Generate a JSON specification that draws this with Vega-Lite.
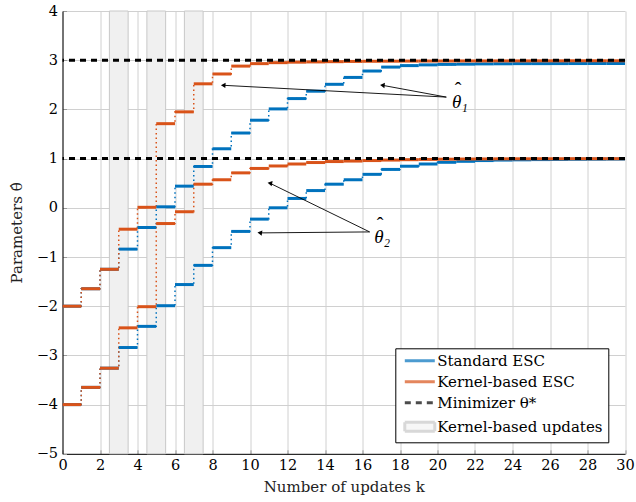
{
  "$schema": "https://vega.github.io/schema/vega-lite/v6.json",
  "width": 562.5,
  "height": 442.8,
  "autosize": {"type": "none"},
  "padding": {"left": 62.5, "top": 11, "right": 11, "bottom": 48.2},
  "background": "white",
  "config": {
    "view": {"stroke": null},
    "font": "DejaVu Serif",
    "axis": {
      "domainColor": "black",
      "domainWidth": 1,
      "gridColor": "#d0d0d0",
      "gridWidth": 1,
      "gridOpacity": 1,
      "tickColor": "#999999",
      "labelFont": "DejaVu Serif",
      "labelFontSize": 14.5,
      "labelColor": "black",
      "labelOverlap": false,
      "titleFont": "DejaVu Serif",
      "titleFontSize": 15,
      "titleFontWeight": "normal",
      "titleColor": "#222222"
    },
    "legend": {
      "orient": "none", "legendX": 332.8, "legendY": 337.3, "title": null,
      "padding": 5, "strokeColor": "black", "fillColor": "white", "cornerRadius": 0,
      "symbolSize": 100, "labelFont": "DejaVu Serif", "labelLimit": 400,
      "labelFontSize": 15, "labelColor": "black", "rowPadding": 5, "labelOffset": 10,
      "symbolOffset": 12
    }
  },
  "datasets": {
    "steps": [
      {"param": "t1", "method": "Standard ESC", "k": 0, "value": -2.0},
      {"param": "t1", "method": "Standard ESC", "k": 1, "value": -1.645},
      {"param": "t1", "method": "Standard ESC", "k": 2, "value": -1.25},
      {"param": "t1", "method": "Standard ESC", "k": 3, "value": -0.84},
      {"param": "t1", "method": "Standard ESC", "k": 4, "value": -0.40},
      {"param": "t1", "method": "Standard ESC", "k": 5, "value": 0.02},
      {"param": "t1", "method": "Standard ESC", "k": 6, "value": 0.44},
      {"param": "t1", "method": "Standard ESC", "k": 7, "value": 0.84},
      {"param": "t1", "method": "Standard ESC", "k": 8, "value": 1.20},
      {"param": "t1", "method": "Standard ESC", "k": 9, "value": 1.52},
      {"param": "t1", "method": "Standard ESC", "k": 10, "value": 1.78},
      {"param": "t1", "method": "Standard ESC", "k": 11, "value": 2.01},
      {"param": "t1", "method": "Standard ESC", "k": 12, "value": 2.22},
      {"param": "t1", "method": "Standard ESC", "k": 13, "value": 2.37},
      {"param": "t1", "method": "Standard ESC", "k": 14, "value": 2.51},
      {"param": "t1", "method": "Standard ESC", "k": 15, "value": 2.65},
      {"param": "t1", "method": "Standard ESC", "k": 16, "value": 2.78},
      {"param": "t1", "method": "Standard ESC", "k": 17, "value": 2.86},
      {"param": "t1", "method": "Standard ESC", "k": 18, "value": 2.89},
      {"param": "t1", "method": "Standard ESC", "k": 19, "value": 2.905},
      {"param": "t1", "method": "Standard ESC", "k": 20, "value": 2.915},
      {"param": "t1", "method": "Standard ESC", "k": 21, "value": 2.92},
      {"param": "t1", "method": "Standard ESC", "k": 22, "value": 2.925},
      {"param": "t1", "method": "Standard ESC", "k": 23, "value": 2.927},
      {"param": "t1", "method": "Standard ESC", "k": 24, "value": 2.93},
      {"param": "t1", "method": "Standard ESC", "k": 25, "value": 2.93},
      {"param": "t1", "method": "Standard ESC", "k": 26, "value": 2.931},
      {"param": "t1", "method": "Standard ESC", "k": 27, "value": 2.932},
      {"param": "t1", "method": "Standard ESC", "k": 28, "value": 2.933},
      {"param": "t1", "method": "Standard ESC", "k": 29, "value": 2.933},
      {"param": "t1", "method": "Standard ESC", "k": 30, "value": 2.933},
      {"param": "t2", "method": "Standard ESC", "k": 0, "value": -4.0},
      {"param": "t2", "method": "Standard ESC", "k": 1, "value": -3.65},
      {"param": "t2", "method": "Standard ESC", "k": 2, "value": -3.26},
      {"param": "t2", "method": "Standard ESC", "k": 3, "value": -2.84},
      {"param": "t2", "method": "Standard ESC", "k": 4, "value": -2.41},
      {"param": "t2", "method": "Standard ESC", "k": 5, "value": -1.99},
      {"param": "t2", "method": "Standard ESC", "k": 6, "value": -1.56},
      {"param": "t2", "method": "Standard ESC", "k": 7, "value": -1.17},
      {"param": "t2", "method": "Standard ESC", "k": 8, "value": -0.81},
      {"param": "t2", "method": "Standard ESC", "k": 9, "value": -0.48},
      {"param": "t2", "method": "Standard ESC", "k": 10, "value": -0.23},
      {"param": "t2", "method": "Standard ESC", "k": 11, "value": 0.0},
      {"param": "t2", "method": "Standard ESC", "k": 12, "value": 0.19},
      {"param": "t2", "method": "Standard ESC", "k": 13, "value": 0.35},
      {"param": "t2", "method": "Standard ESC", "k": 14, "value": 0.48},
      {"param": "t2", "method": "Standard ESC", "k": 15, "value": 0.57},
      {"param": "t2", "method": "Standard ESC", "k": 16, "value": 0.68},
      {"param": "t2", "method": "Standard ESC", "k": 17, "value": 0.78},
      {"param": "t2", "method": "Standard ESC", "k": 18, "value": 0.845},
      {"param": "t2", "method": "Standard ESC", "k": 19, "value": 0.89},
      {"param": "t2", "method": "Standard ESC", "k": 20, "value": 0.925},
      {"param": "t2", "method": "Standard ESC", "k": 21, "value": 0.945},
      {"param": "t2", "method": "Standard ESC", "k": 22, "value": 0.96},
      {"param": "t2", "method": "Standard ESC", "k": 23, "value": 0.97},
      {"param": "t2", "method": "Standard ESC", "k": 24, "value": 0.975},
      {"param": "t2", "method": "Standard ESC", "k": 25, "value": 0.98},
      {"param": "t2", "method": "Standard ESC", "k": 26, "value": 0.983},
      {"param": "t2", "method": "Standard ESC", "k": 27, "value": 0.986},
      {"param": "t2", "method": "Standard ESC", "k": 28, "value": 0.988},
      {"param": "t2", "method": "Standard ESC", "k": 29, "value": 0.99},
      {"param": "t2", "method": "Standard ESC", "k": 30, "value": 0.99},
      {"param": "t1", "method": "Kernel-based ESC", "k": 0, "value": -2.0},
      {"param": "t1", "method": "Kernel-based ESC", "k": 1, "value": -1.645},
      {"param": "t1", "method": "Kernel-based ESC", "k": 2, "value": -1.25},
      {"param": "t1", "method": "Kernel-based ESC", "k": 3, "value": -0.435},
      {"param": "t1", "method": "Kernel-based ESC", "k": 4, "value": 0.01},
      {"param": "t1", "method": "Kernel-based ESC", "k": 5, "value": 1.71},
      {"param": "t1", "method": "Kernel-based ESC", "k": 6, "value": 1.95},
      {"param": "t1", "method": "Kernel-based ESC", "k": 7, "value": 2.52},
      {"param": "t1", "method": "Kernel-based ESC", "k": 8, "value": 2.72},
      {"param": "t1", "method": "Kernel-based ESC", "k": 9, "value": 2.88},
      {"param": "t1", "method": "Kernel-based ESC", "k": 10, "value": 2.93},
      {"param": "t1", "method": "Kernel-based ESC", "k": 11, "value": 2.95},
      {"param": "t1", "method": "Kernel-based ESC", "k": 12, "value": 2.96},
      {"param": "t1", "method": "Kernel-based ESC", "k": 13, "value": 2.965},
      {"param": "t1", "method": "Kernel-based ESC", "k": 14, "value": 2.97},
      {"param": "t1", "method": "Kernel-based ESC", "k": 15, "value": 2.975},
      {"param": "t1", "method": "Kernel-based ESC", "k": 16, "value": 2.978},
      {"param": "t1", "method": "Kernel-based ESC", "k": 17, "value": 2.98},
      {"param": "t1", "method": "Kernel-based ESC", "k": 18, "value": 2.982},
      {"param": "t1", "method": "Kernel-based ESC", "k": 19, "value": 2.983},
      {"param": "t1", "method": "Kernel-based ESC", "k": 20, "value": 2.984},
      {"param": "t1", "method": "Kernel-based ESC", "k": 21, "value": 2.985},
      {"param": "t1", "method": "Kernel-based ESC", "k": 22, "value": 2.985},
      {"param": "t1", "method": "Kernel-based ESC", "k": 23, "value": 2.986},
      {"param": "t1", "method": "Kernel-based ESC", "k": 24, "value": 2.986},
      {"param": "t1", "method": "Kernel-based ESC", "k": 25, "value": 2.987},
      {"param": "t1", "method": "Kernel-based ESC", "k": 26, "value": 2.987},
      {"param": "t1", "method": "Kernel-based ESC", "k": 27, "value": 2.988},
      {"param": "t1", "method": "Kernel-based ESC", "k": 28, "value": 2.988},
      {"param": "t1", "method": "Kernel-based ESC", "k": 29, "value": 2.988},
      {"param": "t1", "method": "Kernel-based ESC", "k": 30, "value": 2.988},
      {"param": "t2", "method": "Kernel-based ESC", "k": 0, "value": -4.0},
      {"param": "t2", "method": "Kernel-based ESC", "k": 1, "value": -3.65},
      {"param": "t2", "method": "Kernel-based ESC", "k": 2, "value": -3.26},
      {"param": "t2", "method": "Kernel-based ESC", "k": 3, "value": -2.44},
      {"param": "t2", "method": "Kernel-based ESC", "k": 4, "value": -2.01},
      {"param": "t2", "method": "Kernel-based ESC", "k": 5, "value": -0.32},
      {"param": "t2", "method": "Kernel-based ESC", "k": 6, "value": -0.08},
      {"param": "t2", "method": "Kernel-based ESC", "k": 7, "value": 0.48},
      {"param": "t2", "method": "Kernel-based ESC", "k": 8, "value": 0.57},
      {"param": "t2", "method": "Kernel-based ESC", "k": 9, "value": 0.71},
      {"param": "t2", "method": "Kernel-based ESC", "k": 10, "value": 0.80},
      {"param": "t2", "method": "Kernel-based ESC", "k": 11, "value": 0.85},
      {"param": "t2", "method": "Kernel-based ESC", "k": 12, "value": 0.89},
      {"param": "t2", "method": "Kernel-based ESC", "k": 13, "value": 0.92},
      {"param": "t2", "method": "Kernel-based ESC", "k": 14, "value": 0.94},
      {"param": "t2", "method": "Kernel-based ESC", "k": 15, "value": 0.95},
      {"param": "t2", "method": "Kernel-based ESC", "k": 16, "value": 0.96},
      {"param": "t2", "method": "Kernel-based ESC", "k": 17, "value": 0.97},
      {"param": "t2", "method": "Kernel-based ESC", "k": 18, "value": 0.978},
      {"param": "t2", "method": "Kernel-based ESC", "k": 19, "value": 0.984},
      {"param": "t2", "method": "Kernel-based ESC", "k": 20, "value": 0.988},
      {"param": "t2", "method": "Kernel-based ESC", "k": 21, "value": 0.991},
      {"param": "t2", "method": "Kernel-based ESC", "k": 22, "value": 0.993},
      {"param": "t2", "method": "Kernel-based ESC", "k": 23, "value": 0.995},
      {"param": "t2", "method": "Kernel-based ESC", "k": 24, "value": 0.996},
      {"param": "t2", "method": "Kernel-based ESC", "k": 25, "value": 0.997},
      {"param": "t2", "method": "Kernel-based ESC", "k": 26, "value": 0.997},
      {"param": "t2", "method": "Kernel-based ESC", "k": 27, "value": 0.998},
      {"param": "t2", "method": "Kernel-based ESC", "k": 28, "value": 0.998},
      {"param": "t2", "method": "Kernel-based ESC", "k": 29, "value": 0.998},
      {"param": "t2", "method": "Kernel-based ESC", "k": 30, "value": 0.998}
    ],
    "shade": [
      {"start": 2.5, "end": 3.5},
      {"start": 4.5, "end": 5.5},
      {"start": 6.5, "end": 7.5}
    ],
    "minimizer": [{"value": 3}, {"value": 1}],
    "legendItems": [
      {"label": "Standard ESC"},
      {"label": "Kernel-based ESC"},
      {"label": "Minimizer θ*"},
      {"label": "Kernel-based updates"}
    ],
    "arrows": [
      {"id": "a1", "x": 20.47, "y": 2.25, "x2": 8.57, "y2": 2.49},
      {"id": "a2", "x": 20.47, "y": 2.25, "x2": 17.06, "y2": 2.49},
      {"id": "a3", "x": 16.38, "y": -0.49, "x2": 10.52, "y2": -0.51},
      {"id": "a4", "x": 16.38, "y": -0.49, "x2": 11.06, "y2": 0.50}
    ],
    "labels": [
      {"text": "θ₁", "x": 21.2, "y": 2.15},
      {"text": "θ₂", "x": 17.05, "y": -0.6}
    ]
  },
  "layer": [
    {
      "data": {"name": "shade"},
      "mark": {"type": "rect", "fill": "#f0f0f0", "stroke": "#c8c8c8", "strokeWidth": 1, "opacity": 1},
      "encoding": {
        "x": {"field": "start", "type": "quantitative", "scale": {"domain": [0, 30], "nice": false, "zero": false},
          "axis": {"values": [0, 2, 4, 6, 8, 10, 12, 14, 16, 18, 20, 22, 24, 26, 28, 30], "tickCount": 40, "format": "d", "title": "Number of updates k", "tickSize": -4, "labelPadding": 9, "titlePadding": 7, "grid": true, "labelOverlap": false, "labelFlush": false, "labelBound": false}},
        "x2": {"field": "end"}
      }
    },
    {
      "data": {"name": "steps"},
      "mark": {"type": "line", "interpolate": "step-after", "strokeWidth": 1.5, "strokeDash": [1.5, 3]},
      "encoding": {
        "x": {"field": "k", "type": "quantitative"},
        "y": {"field": "value", "type": "quantitative", "scale": {"domain": [-5, 4], "nice": false, "zero": false},
          "axis": {"values": [-5, -4, -3, -2, -1, 0, 1, 2, 3, 4], "tickCount": 40, "format": "d", "title": "Parameters θ̂", "tickSize": -4, "labelPadding": 9, "titlePadding": 12, "grid": true}},
        "detail": {"field": "param"},
        "stroke": {"field": "method", "type": "nominal", "legend": null,
          "scale": {"domain": ["Standard ESC", "Kernel-based ESC"], "range": ["#0072BD", "#D95319"]}}
      }
    },
    {
      "data": {"name": "steps"},
      "transform": [
        {"filter": "datum.method === 'Standard ESC'"},
        {"window": [{"op": "lead", "field": "k", "as": "k_next"}], "groupby": ["param"], "sort": [{"field": "k"}]},
        {"filter": "datum.k_next != null"}
      ],
      "mark": {"type": "rule", "strokeWidth": 3},
      "encoding": {
        "x": {"field": "k", "type": "quantitative"},
        "x2": {"field": "k_next"},
        "y": {"field": "value", "type": "quantitative"},
        "stroke": {"field": "method", "type": "nominal", "legend": null}
      }
    },
    {
      "data": {"name": "steps"},
      "transform": [
        {"filter": "datum.method === 'Kernel-based ESC'"},
        {"window": [{"op": "lead", "field": "k", "as": "k_next"}], "groupby": ["param"], "sort": [{"field": "k"}]},
        {"filter": "datum.k_next != null"}
      ],
      "mark": {"type": "rule", "strokeWidth": 3},
      "encoding": {
        "x": {"field": "k", "type": "quantitative"},
        "x2": {"field": "k_next"},
        "y": {"field": "value", "type": "quantitative"},
        "stroke": {"field": "method", "type": "nominal", "legend": null}
      }
    },
    {
      "data": {"name": "minimizer"},
      "mark": {"type": "rule", "strokeWidth": 3, "strokeDash": [6, 5], "color": "black"},
      "encoding": {
        "y": {"field": "value", "type": "quantitative"}
      }
    },
    {
      "data": {"name": "arrows"},
      "mark": {"type": "rule", "strokeWidth": 0.9, "color": "black"},
      "encoding": {
        "x": {"field": "x", "type": "quantitative"},
        "y": {"field": "y", "type": "quantitative"},
        "x2": {"field": "x2"},
        "y2": {"field": "y2"}
      }
    },
    {
      "data": {"name": "arrows"},
      "mark": {"type": "point", "shape": "triangle-left", "filled": true, "color": "black", "size": 28, "opacity": 1},
      "encoding": {
        "x": {"field": "x2", "type": "quantitative"},
        "y": {"field": "y2", "type": "quantitative"},
        "angle": {"field": "id", "type": "nominal", "scale": {"domain": ["a1", "a2", "a3", "a4"], "range": [3, 10, 0, 26]}, "legend": null}
      }
    },
    {
      "data": {"name": "labels"},
      "mark": {"type": "text", "fontSize": 19, "fontStyle": "italic", "font": "Liberation Serif", "color": "black", "align": "center", "baseline": "middle"},
      "encoding": {
        "x": {"field": "x", "type": "quantitative"},
        "y": {"field": "y", "type": "quantitative"},
        "text": {"field": "text"}
      }
    },
    {
      "data": {"name": "labels"},
      "mark": {"type": "text", "fontSize": 20, "font": "Liberation Serif", "color": "black", "align": "center", "baseline": "middle", "dx": -2, "dy": -11, "text": "ˆ"},
      "encoding": {
        "x": {"field": "x", "type": "quantitative"},
        "y": {"field": "y", "type": "quantitative"}
      }
    },
    {
      "data": {"name": "legendItems"},
      "transform": [{"filter": "false"}],
      "mark": {"type": "point", "filled": false},
      "encoding": {
        "color": {"field": "label", "type": "nominal", "title": null,
          "scale": {"domain": ["Standard ESC", "Kernel-based ESC", "Minimizer θ*", "Kernel-based updates"], "range": ["#0072BD", "#D95319", "#000000", "#c8c8c8"]}},
        "fill": {"field": "label", "type": "nominal", "title": null,
          "scale": {"domain": ["Standard ESC", "Kernel-based ESC", "Minimizer θ*", "Kernel-based updates"], "range": ["transparent", "transparent", "transparent", "#f0f0f0"]}},
        "shape": {"field": "label", "type": "nominal", "title": null,
          "scale": {"domain": ["Standard ESC", "Kernel-based ESC", "Minimizer θ*", "Kernel-based updates"], "range": ["M-3,0H3", "M-3,0H3", "M-3,0H3", "M-3,-0.9H3V0.9H-3Z"]}},
        "strokeDash": {"field": "label", "type": "nominal", "title": null,
          "scale": {"domain": ["Standard ESC", "Kernel-based ESC", "Minimizer θ*", "Kernel-based updates"], "range": [[1, 0], [1, 0], [6, 5], [1, 0]]}},
        "strokeWidth": {"field": "label", "type": "ordinal", "title": null,
          "scale": {"domain": ["Standard ESC", "Kernel-based ESC", "Minimizer θ*", "Kernel-based updates"], "range": [3, 3, 3, 1]}}
      }
    }
  ]
}
